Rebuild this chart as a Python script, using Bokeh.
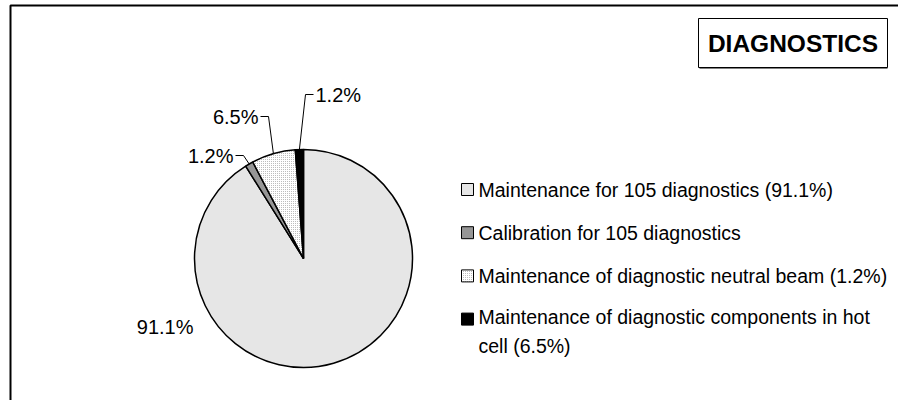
import math
from bokeh.plotting import figure
from bokeh.models import Range1d
from bokeh.core.properties import value
from bokeh.embed import file_html
from bokeh.resources import INLINE

# ---- data ----
categories = [
    "Maintenance for 105 diagnostics (91.1%)",
    "Calibration for 105 diagnostics",
    "Maintenance of diagnostic neutral beam (1.2%)",
    "Maintenance of diagnostic components in hot\ncell (6.5%)",
]
shares = [91.1, 1.2, 6.5, 1.2]
title_text = "DIAGNOSTICS"

# ---- styles / layout ----
fills = ["#e6e6e6", "#969696", "white", "black"]
hatches = ["", "", "dot", ""]
W, H = 898, 400
FONT = "Liberation Sans"
cx, cy_px, R = 303, 258, 109
# label anchors relative to pie centre (px, y down) and alignment
label_dx = [-110, -70, -45, 12]
label_dy = [68, -103, -142, -164]
label_align = ["right", "right", "right", "left"]
show_leader = [False, True, True, True]
HATCH = dict(hatch_color="#a8a8a8", hatch_scale=2, hatch_weight=1)


def Y(px):
    return H - px


p = figure(width=W, height=H, x_range=Range1d(0, W), y_range=Range1d(0, H),
           toolbar_location=None, output_backend="svg", min_border=0,
           x_axis_type=None, y_axis_type=None)
p.grid.visible = False
p.outline_line_color = None
p.background_fill_color = "white"
p.border_fill_color = "white"

# outer frame (cut off at right/bottom like the reference)
p.line(x=[10, 10, W + 20], y=[Y(H + 20), Y(5), Y(5)], line_color="black", line_width=2)

# ---- pie ----
total = sum(shares)
cum = 0.0
starts, ends, mids = [], [], []
for v in shares:
    f0 = cum / total
    cum += v
    f1 = cum / total
    starts.append(math.pi / 2 - 2 * math.pi * f1)
    ends.append(math.pi / 2 - 2 * math.pi * f0)
    mids.append(math.pi / 2 - 2 * math.pi * (f0 + f1) / 2)

for i in range(len(shares)):
    kw = dict(hatch_pattern=hatches[i], **HATCH) if hatches[i] else {}
    p.wedge(x=[cx], y=[Y(cy_px)], radius=R, start_angle=[starts[i]], end_angle=[ends[i]],
            direction="anticlock", fill_color=fills[i], line_color="black", line_width=1.5, **kw)

# ---- data labels with leader lines ----
for i, v in enumerate(shares):
    lx = cx + label_dx[i]
    ly = cy_px + label_dy[i]
    if show_leader[i]:
        ex = cx + R * math.cos(mids[i])
        ey = Y(cy_px) + R * math.sin(mids[i])
        sgn = 1 if label_align[i] == "right" else -1
        elbow_x = lx + sgn * 10
        p.line(x=[ex, elbow_x, lx + sgn * 2], y=[ey, Y(ly), Y(ly)], line_color="black", line_width=1)
    p.text(x=[lx], y=[Y(ly)], text=[f"{v:.1f}%"], text_font=value(FONT), text_font_size="20px",
           text_align=label_align[i], text_baseline="middle", text_color="black")

# ---- legend ----
leg_x, leg_y0, leg_gap, sq = 467, 189, 43.2, 12
line_h = 25.5
for i, name in enumerate(categories):
    ry = leg_y0 + i * leg_gap
    kw = dict(hatch_pattern=hatches[i], **HATCH) if hatches[i] else {}
    p.rect(x=[leg_x], y=[Y(ry)], width=sq, height=sq, fill_color=fills[i],
           line_color="black", line_width=1, **kw)
    nlines = name.count("\n") + 1
    ty = ry + (nlines - 1) * line_h / 2
    p.text(x=[478], y=[Y(ty)], text=[name], text_font=value(FONT), text_font_size="19.5px",
           text_align="left", text_baseline="middle", text_color="black",
           text_line_height=1.31)

# ---- title box ----
bx0, bx1, by0, by1 = 698, 887, 18, 67
p.line(x=[bx0 + 1, bx1], y=[Y(by1 + 0.5), Y(by1 + 0.5)], line_color="#808080", line_width=2)
p.quad(left=[bx0], right=[bx1], top=[Y(by0)], bottom=[Y(by1)], fill_color="white",
       line_color="black", line_width=1)
p.text(x=[(bx0 + bx1) / 2], y=[Y((by0 + by1) / 2)], text=[title_text], text_font=value(FONT),
       text_font_size="24.5px", text_font_style="bold", text_align="center",
       text_baseline="middle", text_color="black")

open("out.html", "w").write(file_html(p, INLINE))
